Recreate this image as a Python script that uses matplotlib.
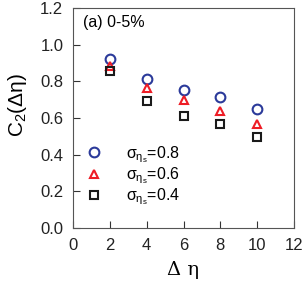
import matplotlib
matplotlib.use('Agg')
import matplotlib.pyplot as plt

plt.rcParams['font.family'] = ['Liberation Sans', 'DejaVu Sans']
plt.rcParams['mathtext.fontset'] = 'custom'
plt.rcParams['mathtext.rm'] = 'Liberation Sans'
plt.rcParams['mathtext.it'] = 'Liberation Sans'

deta = [2, 4, 6, 8, 10]
c2_08 = [0.92, 0.81, 0.755, 0.715, 0.65]
c2_06 = [0.885, 0.765, 0.70, 0.64, 0.565]
c2_04 = [0.855, 0.695, 0.61, 0.57, 0.495]
labels = [r'$\sigma_{\eta_s}$=0.8', r'$\sigma_{\eta_s}$=0.6', r'$\sigma_{\eta_s}$=0.4']

fig = plt.figure(figsize=(3.04, 2.84), dpi=100)
ax = fig.add_axes([73/304, 1-228/284, 221/304, 220/284])

ax.plot(deta, c2_08, 'o', ms=7, mfc='none', mec='#2b3a9a', mew=1.5, ls='none', label=labels[0])
ax.plot(deta, c2_06, '^', ms=6, mfc='none', mec='#ee1c25', mew=1.5, ls='none', label=labels[1])
ax.plot(deta, c2_04, 's', ms=6, mfc='none', mec='#1a1a1a', mew=1.5, ls='none', label=labels[2])

ax.set_xlim(0, 12)
ax.set_ylim(0, 1.2)
ax.set_xticks([0, 2, 4, 6, 8, 10, 12])
ax.set_yticks([0.0, 0.2, 0.4, 0.6, 0.8, 1.0, 1.2])
ax.set_yticklabels(['0.0', '0.2', '0.4', '0.6', '0.8', '1.0', '1.2'])
ax.tick_params(direction='in', length=5, labelsize=12, pad=7, colors='#333333', labelcolor='#222222')
for s in ax.spines.values():
    s.set_color('#555555')

ax.set_xlabel('Δ η', fontsize=14, family=['DejaVu Serif'], labelpad=6)
ax.set_ylabel('C$_2$(Δη)', fontsize=15)
ax.yaxis.set_label_coords(-0.20, 0.56)
ax.text(0.55, 1.12, '(a) 0-5%', fontsize=11.5, va='center')

ax.legend(loc='lower left', bbox_to_anchor=(0.015, 0.05), frameon=False, fontsize=11.5,
          handlelength=1.0, handletextpad=1.5, labelspacing=0.05, borderaxespad=0.2)

fig.savefig('out.png', dpi=100)
